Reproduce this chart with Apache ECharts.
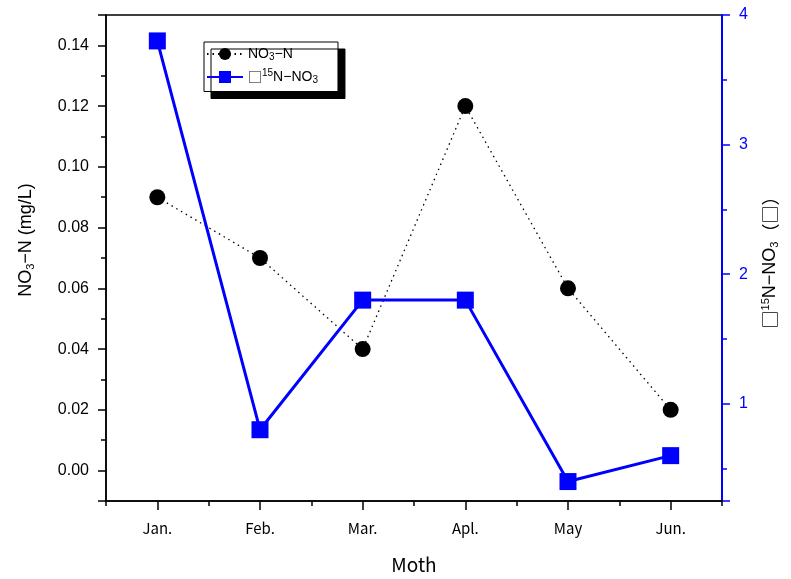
<html>
<head>
<meta charset="utf-8" />
<title>NO3-N</title>
<script src="https://cdn.jsdelivr.net/npm/echarts@6/dist/echarts.min.js"></script>
<style type="text/css">
html, body { margin: 0; padding: 0; background: #fff; }
#main { width: 791px; height: 579px; }
</style>
</head>
<body>
<div id="main"></div>
<script type="text/javascript">
var months = ["Jan.", "Feb.", "Mar.", "Apl.", "May", "Jun."];
var no3N = [0.09, 0.07, 0.04, 0.12, 0.06, 0.02];      // 左轴 mg/L
var d15N = [3.8, 0.8, 1.8, 1.8, 0.4, 0.6];            // 右轴

var blue = "#0000ff";
var fontJP = "'Noto Sans CJK JP', 'Liberation Sans', sans-serif";
var fontNum = "'Liberation Sans', Arial, sans-serif";
var subRich = {
	n: { fontSize: 18, fontFamily: fontNum, color: "#000" },
	c: { fontSize: 18, fontFamily: fontJP, color: "#000" },
	sub: { fontSize: 11, fontFamily: fontNum, color: "#000", padding: [9, 0, 0, 0] },
	sup: { fontSize: 11, fontFamily: fontNum, color: "#000", padding: [0, 0, 9, 0] }
};

var myChart = echarts.init(document.getElementById("main"));

var option = {
	backgroundColor: "#fff",
	animation: false,
	grid: {
		left: 106, right: 69, top: 15, bottom: 75,
		show: true, borderColor: "#000", borderWidth: 1.5, backgroundColor: "transparent"
	},
	legend: {
		orient: "vertical",
		left: 204, top: 42,
		backgroundColor: "#fff",
		borderColor: "#000", borderWidth: 1,
		padding: [5, 20, 6, 2],
		shadowColor: "#000", shadowBlur: 0, shadowOffsetX: 7, shadowOffsetY: 7,
		itemWidth: 36, itemHeight: 15, itemGap: 6,
		data: ["NO3-N", "15N-NO3"],
		formatter: function (name) {
			if (name === "NO3-N") return "{t|NO}{s|3}{t|−N}";
			return "{c|□}{p|15}{t|N−NO}{s|3}";
		},
		textStyle: {
			rich: {
				t: { fontSize: 14, fontFamily: fontNum, color: "#000" },
				c: { fontSize: 14, fontFamily: fontJP, color: "#000" },
				s: { fontSize: 10, fontFamily: fontNum, color: "#000", padding: [7, 0, 0, 0] },
				p: { fontSize: 10, fontFamily: fontNum, color: "#000", padding: [0, 0, 7, 0] }
			}
		}
	},
	xAxis: [
		{
			type: "category", data: months, boundaryGap: true, position: "bottom",
			name: "Moth", nameLocation: "middle", nameGap: 54,
			nameTextStyle: { fontSize: 19, fontFamily: fontJP, color: "#000" },
			axisLine: { show: true, onZero: false, lineStyle: { color: "#000", width: 1.5 } },
			axisTick: { show: true, alignWithLabel: true, length: 9, lineStyle: { color: "#000", width: 1.5 } },
			axisLabel: { fontSize: 15, fontFamily: fontJP, color: "#000", margin: 20 },
			splitLine: { show: false }
		},
		{
			// 次刻度
			type: "category", data: months, boundaryGap: true, position: "bottom",
			axisLine: { show: false, onZero: false },
			axisTick: { show: true, length: 5, lineStyle: { color: "#000", width: 1.5 } },
			axisLabel: { show: false },
			splitLine: { show: false }
		}
	],
	yAxis: [
		{
			type: "value", position: "left", min: -0.01, max: 0.15, splitNumber: 8,
			name: "{n|NO}{sub|3}{n|−N (mg/L)}", nameLocation: "middle", nameGap: 70,
			nameTextStyle: { rich: subRich, padding: [0, 0, 0, 36] },
			axisLine: { show: true, onZero: false, lineStyle: { color: "#000", width: 1.5 } },
			axisTick: { show: true, length: 8, lineStyle: { color: "#000", width: 1.5 } },
			axisLabel: {
				fontSize: 16, fontFamily: fontNum, color: "#000", margin: 17,
				formatter: function (v) {
					return Math.abs(v * 50 - Math.round(v * 50)) < 1e-6 ? v.toFixed(2) : "";
				}
			},
			splitLine: { show: false }
		},
		{
			type: "value", position: "left", min: -0.01, max: 0.15, interval: 0.01,
			axisLine: { show: false, onZero: false },
			axisTick: { show: true, length: 5, lineStyle: { color: "#000", width: 1.5 } },
			axisLabel: { show: false },
			splitLine: { show: false }
		},
		{
			type: "value", position: "right", min: 0.25, max: 4, splitNumber: 4,
			name: "{c|□}{sup|15}{n|N−NO}{sub|3}{c|（□）}", nameLocation: "middle", nameGap: 38,
			nameTextStyle: { rich: subRich, padding: [0, 0, 0, 0] },
			axisLine: { show: true, onZero: false, lineStyle: { color: blue, width: 2 } },
			axisTick: { show: true, length: 8, lineStyle: { color: blue, width: 1.5 } },
			axisLabel: {
				fontSize: 16, fontFamily: fontNum, color: blue, margin: 17,
				formatter: function (v) {
					return Math.abs(v - Math.round(v)) < 1e-6 ? String(Math.round(v)) : "";
				}
			},
			splitLine: { show: false }
		},
		{
			type: "value", position: "right", min: 0.25, max: 4, splitNumber: 8,
			axisLine: { show: false, onZero: false },
			axisTick: { show: true, length: 5, lineStyle: { color: blue, width: 1.5 } },
			axisLabel: { show: false },
			splitLine: { show: false }
		}
	],
	series: [
		{
			name: "NO3-N", type: "line", xAxisIndex: 0, yAxisIndex: 0,
			data: no3N,
			symbol: "circle", symbolSize: 16,
			itemStyle: { color: "#000" },
			lineStyle: { color: "#000", width: 1.3, type: [1.5, 4] },
			z: 3
		},
		{
			name: "15N-NO3", type: "line", xAxisIndex: 0, yAxisIndex: 2,
			data: d15N,
			symbol: "rect", symbolSize: 17,
			itemStyle: { color: blue },
			lineStyle: { color: blue, width: 3 },
			z: 4
		}
	]
};

myChart.setOption(option);
</script>
</body>
</html>
